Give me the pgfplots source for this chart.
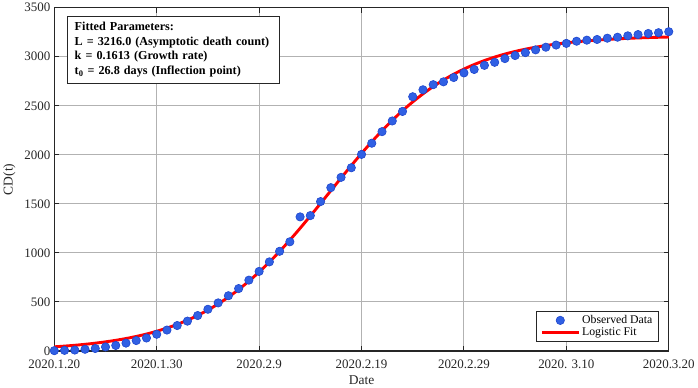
\documentclass[border=0pt]{standalone}
\usepackage{pgfplots}
\pgfplotsset{compat=1.18}
\usepackage{fontspec}
\setmainfont{Liberation Serif}
\definecolor{mkfill}{RGB}{48,96,228}
\definecolor{mkedge}{RGB}{30,70,205}
\pgfplotsset{
  legmark/.style={legend image code/.code={\draw[mark repeat=2,mark phase=2,##1] plot coordinates {(0cm,0cm) (0.65cm,0cm) (1.3cm,0cm)};}},
  legline/.style={legend image code/.code={\draw[##1] (0cm,0cm) -- (1.3cm,0cm);}},
}
\begin{document}
\begin{tikzpicture}
\begin{axis}[
  scale only axis,
  width=614bp, height=343bp,
  xmin=0, xmax=60, ymin=0, ymax=3500,
  xtick={0,10,20,30,40,50,60},
  xticklabels={2020.1.20,2020.1.30,2020.2.9,2020.2.19,2020.2.29,{2020. 3.10},2020.3.20},
  ytick={0,500,1000,1500,2000,2500,3000,3500},
  /pgf/number format/assume math mode=true,
  /pgf/number format/1000 sep={},
  tick label style={font=\fontsize{13}{14}\selectfont, black!85},
  xticklabel style={yshift=-5.5pt},
  yticklabel style={xshift=-0.5pt},
  label style={font=\fontsize{13.5}{15}\selectfont, black!85},
  xlabel={Date}, ylabel={CD(t)},
  xlabel style={yshift=0pt},
  ylabel style={yshift=2pt},
  tick align=inside,
  major tick length=5bp,
  tick style={black!85, line width=1pt},
  axis line style={black!85, line width=1.3pt},
  grid=major,
  major grid style={black!30, line width=1pt},
  legend style={font=\fontsize{11.8}{13}\selectfont, draw=black!85, line width=1.1pt, inner xsep=4pt, inner ysep=2pt,
    at={(0.984,0.026)}, anchor=south east, row sep=-1pt},
  legend cell align=left,
  clip=false,
]
\addplot[only marks, mark=*, mark size=4.2pt, mark options={fill=mkfill, draw=mkedge, line width=0.6pt}, legmark] coordinates {
(0,3) (1,6) (2,9) (3,17) (4,25) (5,41) (6,56) (7,80) (8,106) (9,132)
(10,170) (11,213) (12,259) (13,304) (14,361) (15,425) (16,490) (17,563) (18,636) (19,722)
(20,811) (21,908) (22,1016) (23,1113) (24,1367) (25,1380) (26,1523) (27,1665) (28,1770) (29,1868)
(30,2004) (31,2118) (32,2236) (33,2345) (34,2442) (35,2592) (36,2663) (37,2715) (38,2744) (39,2788)
(40,2835) (41,2870) (42,2912) (43,2943) (44,2981) (45,3012) (46,3042) (47,3070) (48,3097) (49,3119)
(50,3136) (51,3158) (52,3169) (53,3176) (54,3189) (55,3199) (56,3213) (57,3226) (58,3237) (59,3245)
(60,3255)
};
\addlegendentry{Observed Data}
\addplot[red, line width=2.9pt, smooth, legline] coordinates {
(0,42.1) (1,49.4) (2,57.8) (3,67.7) (4,79.3) (5,92.8) (6,108.5) (7,126.7) (8,147.9) (9,172.4)
(10,200.7) (11,233.3) (12,270.6) (13,313.4) (14,362.1) (15,417.2) (16,479.4) (17,549.0) (18,626.3) (19,711.7)
(20,805.1) (21,906.3) (22,1014.8) (23,1130.1) (24,1250.9) (25,1376.2) (26,1504.4) (27,1633.9) (28,1763.1) (29,1890.4)
(30,2014.0) (31,2132.8) (32,2245.4) (33,2351.1) (34,2449.2) (35,2539.4) (36,2621.6) (37,2695.8) (38,2762.4) (39,2821.6)
(40,2874.2) (41,2920.4) (42,2960.9) (43,2996.4) (44,3027.1) (45,3053.9) (46,3076.9) (47,3096.9) (48,3114.1) (49,3128.9)
(50,3141.5) (51,3152.4) (52,3161.7) (53,3169.7) (54,3176.5) (55,3182.3) (56,3187.3) (57,3191.5) (58,3195.2) (59,3198.2)
(60,3200.9)
};
\addlegendentry{Logistic Fit}
\node[draw=black!85, line width=1.1pt, fill=white, anchor=north west, align=left, inner xsep=7pt, inner ysep=6pt,
  text width=198bp,
  font=\bfseries\fontsize{12.2}{14.7}\selectfont] at (rel axis cs:0.021,0.977)
  {Fitted Parameters:\\
   L = 3216.0 (Asymptotic death count)\\
   k = 0.1613 (Growth rate)\\
   t$_{\mathbf{0}}$ = 26.8 days (Inflection point)};
\end{axis}
\end{tikzpicture}
\end{document}
